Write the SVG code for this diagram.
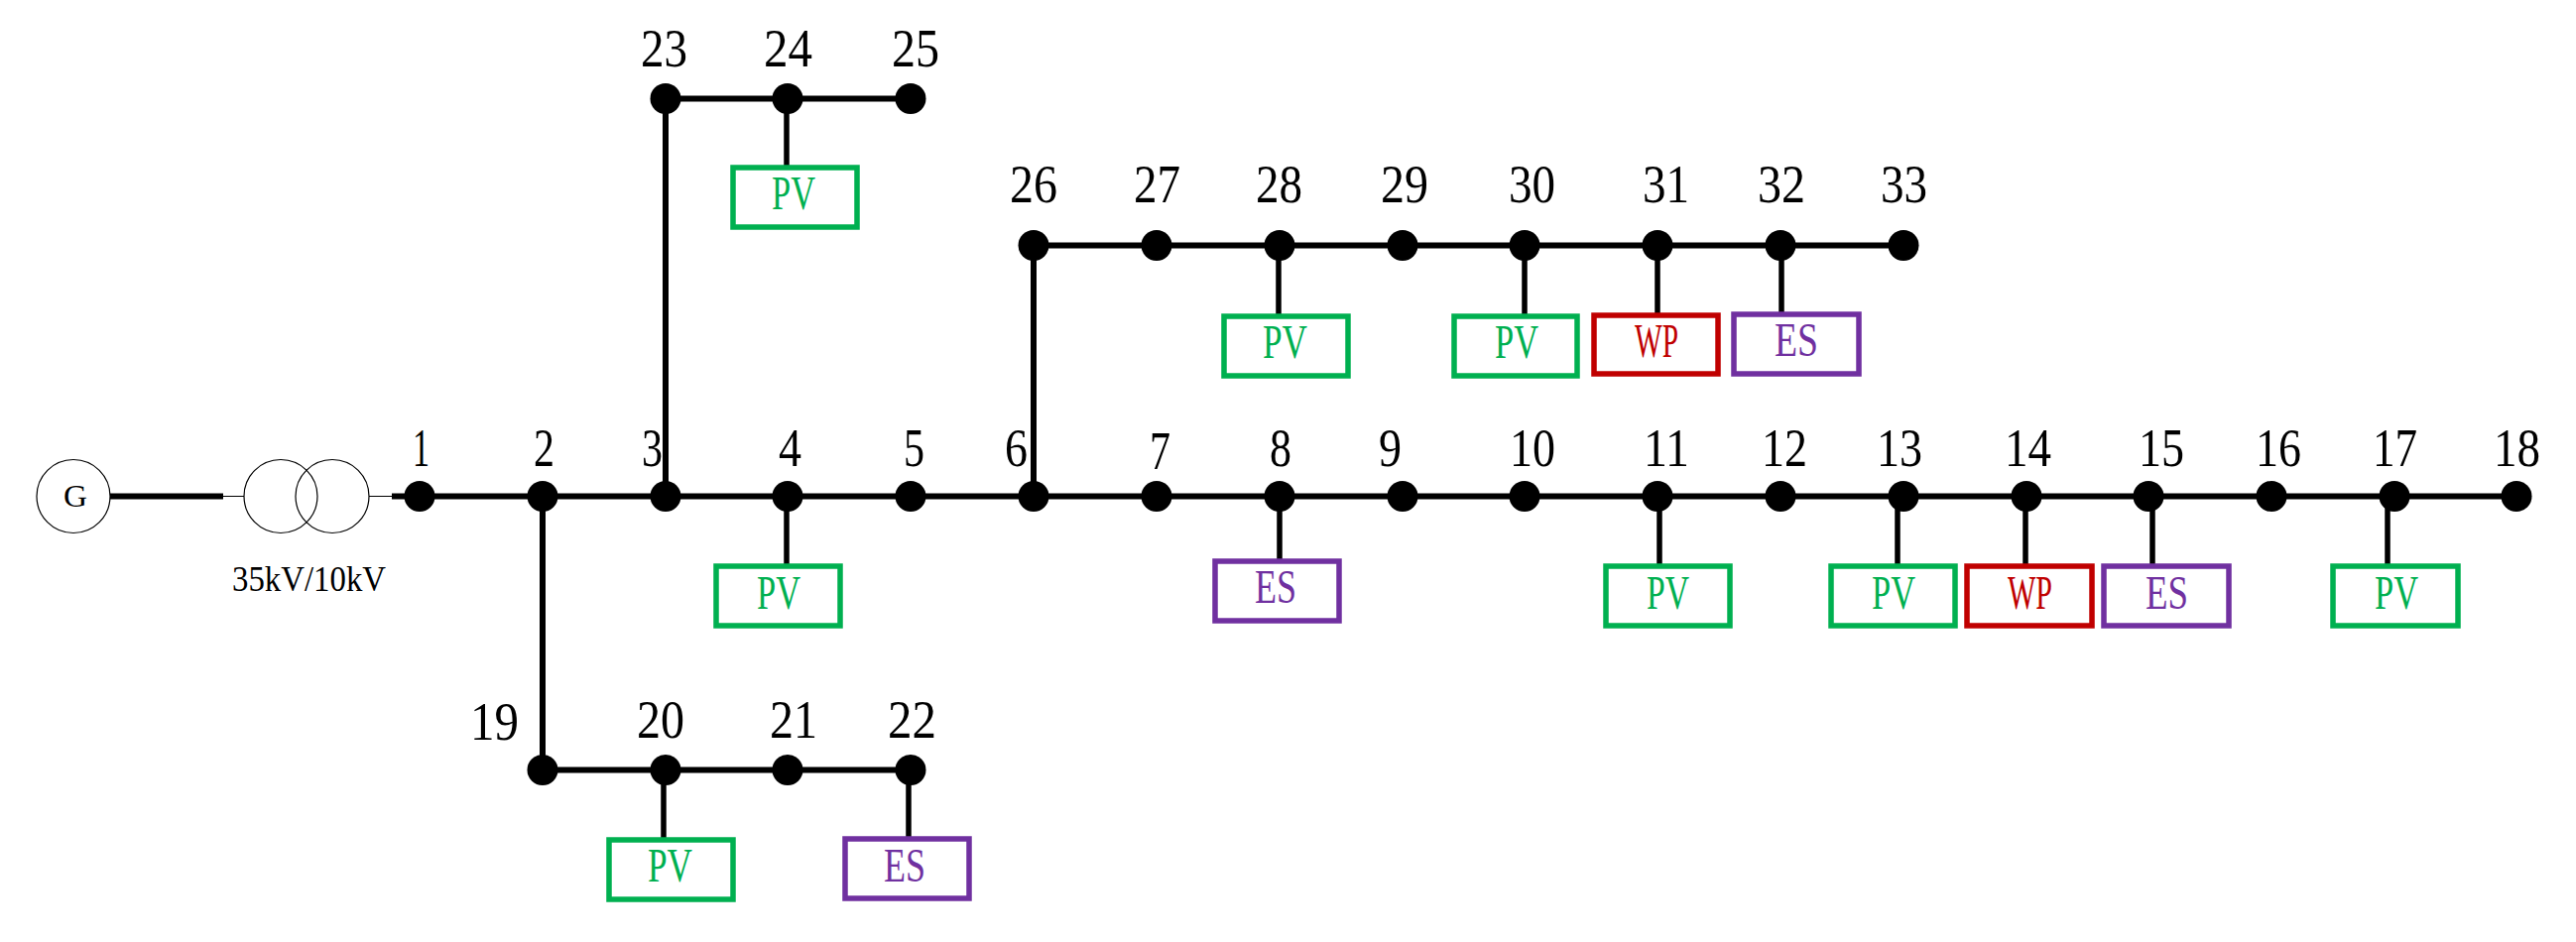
<svg xmlns="http://www.w3.org/2000/svg" width="2597" height="950" viewBox="0 0 2597 950">
<style>
text{font-family:"Liberation Serif","Times New Roman",serif;fill:#000;font-weight:400}
.n{font-size:55px}.u{font-size:48px}
.bus{fill:#000}
.l{stroke:#000;stroke-width:6;fill:none}
.v{stroke:#000;stroke-width:5.5;fill:none}
.t{stroke:#000;stroke-width:1.2;fill:none}
.b{fill:#fff;stroke-width:5.5}
.pv .b{stroke:#00B050}.pv text{fill:#00B050}
.wp .b{stroke:#C00000}.wp text{fill:#C00000}
.es .b{stroke:#7030A0}.es text{fill:#7030A0}
</style>
<rect width="2597" height="950" fill="#fff"/>
<g id="connectors">
<path class="l" d="M111 500.5H225M395 500.5H2537"/>
<path class="t" d="M225 500.5H246M372 500.5H395"/>
<path class="l" d="M547 500V776.5H918M671 500V99.5H918M1042 500V247.5H1919"/>
<path class="v" d="M793 99V170M1289 247V320M1537 247V320M1671 247V319M1796 247V318M793 500V572M1290 500V568M1673 500V572M1913 500V572M2042 500V572M2170 500V572M2407 500V572M669 776V848M916 776V848"/>
</g>
<g id="generator"><circle class="t" cx="74" cy="500.5" r="37"/><text x="76" y="511" text-anchor="middle" font-size="31" textLength="24" lengthAdjust="spacingAndGlyphs">G</text></g>
<g id="transformer"><circle class="t" cx="283" cy="500.5" r="37"/><circle class="t" cx="335" cy="500.5" r="37"/><text x="234" y="596" font-size="35" textLength="155" lengthAdjust="spacingAndGlyphs">35kV/10kV</text></g>
<g id="bus1"><circle class="bus" cx="423" cy="500.5" r="15.5"/><text class="n" x="416" y="470" textLength="17" lengthAdjust="spacingAndGlyphs">1</text></g>
<g id="bus2"><circle class="bus" cx="547" cy="500.5" r="15.5"/><text class="n" x="538" y="470" textLength="21" lengthAdjust="spacingAndGlyphs">2</text></g>
<g id="bus3"><circle class="bus" cx="671" cy="500.5" r="15.5"/><text class="n" x="647" y="470" textLength="21" lengthAdjust="spacingAndGlyphs">3</text></g>
<g id="bus4"><circle class="bus" cx="794" cy="500.5" r="15.5"/><text class="n" x="785" y="470" textLength="23" lengthAdjust="spacingAndGlyphs">4</text></g>
<g id="bus5"><circle class="bus" cx="918" cy="500.5" r="15.5"/><text class="n" x="911" y="470" textLength="21" lengthAdjust="spacingAndGlyphs">5</text></g>
<g id="bus6"><circle class="bus" cx="1042" cy="500.5" r="15.5"/><text class="n" x="1013" y="470" textLength="23" lengthAdjust="spacingAndGlyphs">6</text></g>
<g id="bus7"><circle class="bus" cx="1166" cy="500.5" r="15.5"/><text class="n" x="1159" y="473" textLength="21" lengthAdjust="spacingAndGlyphs">7</text></g>
<g id="bus8"><circle class="bus" cx="1290" cy="500.5" r="15.5"/><text class="n" x="1280" y="470" textLength="22" lengthAdjust="spacingAndGlyphs">8</text></g>
<g id="bus9"><circle class="bus" cx="1414" cy="500.5" r="15.5"/><text class="n" x="1390" y="470" textLength="23" lengthAdjust="spacingAndGlyphs">9</text></g>
<g id="bus10"><circle class="bus" cx="1537" cy="500.5" r="15.5"/><text class="n" x="1522" y="470" textLength="46" lengthAdjust="spacingAndGlyphs">10</text></g>
<g id="bus11"><circle class="bus" cx="1671" cy="500.5" r="15.5"/><text class="n" x="1657" y="470" textLength="46" lengthAdjust="spacingAndGlyphs">11</text></g>
<g id="bus12"><circle class="bus" cx="1795" cy="500.5" r="15.5"/><text class="n" x="1776" y="470" textLength="46" lengthAdjust="spacingAndGlyphs">12</text></g>
<g id="bus13"><circle class="bus" cx="1919" cy="500.5" r="15.5"/><text class="n" x="1892" y="470" textLength="46" lengthAdjust="spacingAndGlyphs">13</text></g>
<g id="bus14"><circle class="bus" cx="2043" cy="500.5" r="15.5"/><text class="n" x="2021" y="470" textLength="47" lengthAdjust="spacingAndGlyphs">14</text></g>
<g id="bus15"><circle class="bus" cx="2166" cy="500.5" r="15.5"/><text class="n" x="2156" y="470" textLength="46" lengthAdjust="spacingAndGlyphs">15</text></g>
<g id="bus16"><circle class="bus" cx="2290" cy="500.5" r="15.5"/><text class="n" x="2274" y="470" textLength="46" lengthAdjust="spacingAndGlyphs">16</text></g>
<g id="bus17"><circle class="bus" cx="2414" cy="500.5" r="15.5"/><text class="n" x="2392" y="470" textLength="45" lengthAdjust="spacingAndGlyphs">17</text></g>
<g id="bus18"><circle class="bus" cx="2537" cy="500.5" r="15.5"/><text class="n" x="2514" y="470" textLength="47" lengthAdjust="spacingAndGlyphs">18</text></g>
<g id="bus19"><circle class="bus" cx="547" cy="776.5" r="15.5"/><text class="n" x="474" y="746" textLength="49" lengthAdjust="spacingAndGlyphs">19</text></g>
<g id="bus20"><circle class="bus" cx="671" cy="776.5" r="15.5"/><text class="n" x="642" y="744" textLength="48" lengthAdjust="spacingAndGlyphs">20</text></g>
<g id="bus21"><circle class="bus" cx="794" cy="776.5" r="15.5"/><text class="n" x="776" y="744" textLength="48" lengthAdjust="spacingAndGlyphs">21</text></g>
<g id="bus22"><circle class="bus" cx="918" cy="776.5" r="15.5"/><text class="n" x="895" y="744" textLength="49" lengthAdjust="spacingAndGlyphs">22</text></g>
<g id="bus23"><circle class="bus" cx="671" cy="99.5" r="15.5"/><text class="n" x="646" y="67" textLength="47" lengthAdjust="spacingAndGlyphs">23</text></g>
<g id="bus24"><circle class="bus" cx="794" cy="99.5" r="15.5"/><text class="n" x="770" y="67" textLength="49" lengthAdjust="spacingAndGlyphs">24</text></g>
<g id="bus25"><circle class="bus" cx="918" cy="99.5" r="15.5"/><text class="n" x="899" y="67" textLength="48" lengthAdjust="spacingAndGlyphs">25</text></g>
<g id="bus26"><circle class="bus" cx="1042" cy="247.5" r="15.5"/><text class="n" x="1018" y="204" textLength="48" lengthAdjust="spacingAndGlyphs">26</text></g>
<g id="bus27"><circle class="bus" cx="1166" cy="247.5" r="15.5"/><text class="n" x="1143" y="204" textLength="47" lengthAdjust="spacingAndGlyphs">27</text></g>
<g id="bus28"><circle class="bus" cx="1290" cy="247.5" r="15.5"/><text class="n" x="1266" y="204" textLength="47" lengthAdjust="spacingAndGlyphs">28</text></g>
<g id="bus29"><circle class="bus" cx="1414" cy="247.5" r="15.5"/><text class="n" x="1392" y="204" textLength="48" lengthAdjust="spacingAndGlyphs">29</text></g>
<g id="bus30"><circle class="bus" cx="1537" cy="247.5" r="15.5"/><text class="n" x="1521" y="204" textLength="47" lengthAdjust="spacingAndGlyphs">30</text></g>
<g id="bus31"><circle class="bus" cx="1671" cy="247.5" r="15.5"/><text class="n" x="1656" y="204" textLength="47" lengthAdjust="spacingAndGlyphs">31</text></g>
<g id="bus32"><circle class="bus" cx="1795" cy="247.5" r="15.5"/><text class="n" x="1772" y="204" textLength="48" lengthAdjust="spacingAndGlyphs">32</text></g>
<g id="bus33"><circle class="bus" cx="1919" cy="247.5" r="15.5"/><text class="n" x="1896" y="204" textLength="47" lengthAdjust="spacingAndGlyphs">33</text></g>
<g id="pv24" class="pv"><rect class="b" x="739" y="169" width="125" height="60"/><text class="u" x="778" y="211" textLength="44" lengthAdjust="spacingAndGlyphs">PV</text></g>
<g id="pv28" class="pv"><rect class="b" x="1234" y="319" width="125" height="60"/><text class="u" x="1273" y="361" textLength="45" lengthAdjust="spacingAndGlyphs">PV</text></g>
<g id="pv30" class="pv"><rect class="b" x="1466" y="319" width="124" height="60"/><text class="u" x="1507" y="361" textLength="44" lengthAdjust="spacingAndGlyphs">PV</text></g>
<g id="wp31" class="wp"><rect class="b" x="1607" y="318" width="125" height="59"/><text class="u" x="1648" y="360" textLength="44" lengthAdjust="spacingAndGlyphs">WP</text></g>
<g id="es32" class="es"><rect class="b" x="1748" y="317" width="126" height="60"/><text class="u" x="1789" y="359" textLength="44" lengthAdjust="spacingAndGlyphs">ES</text></g>
<g id="pv4" class="pv"><rect class="b" x="722" y="571" width="125" height="60"/><text class="u" x="763" y="614" textLength="44" lengthAdjust="spacingAndGlyphs">PV</text></g>
<g id="es8" class="es"><rect class="b" x="1225" y="566" width="125" height="60"/><text class="u" x="1265" y="608" textLength="42" lengthAdjust="spacingAndGlyphs">ES</text></g>
<g id="pv11" class="pv"><rect class="b" x="1619" y="571" width="125" height="60"/><text class="u" x="1660" y="614" textLength="43" lengthAdjust="spacingAndGlyphs">PV</text></g>
<g id="pv13" class="pv"><rect class="b" x="1846" y="571" width="125" height="60"/><text class="u" x="1887" y="614" textLength="44" lengthAdjust="spacingAndGlyphs">PV</text></g>
<g id="wp14" class="wp"><rect class="b" x="1983" y="571" width="126" height="60"/><text class="u" x="2024" y="614" textLength="45" lengthAdjust="spacingAndGlyphs">WP</text></g>
<g id="es15" class="es"><rect class="b" x="2121" y="571" width="126" height="60"/><text class="u" x="2163" y="614" textLength="43" lengthAdjust="spacingAndGlyphs">ES</text></g>
<g id="pv17" class="pv"><rect class="b" x="2352" y="571" width="126" height="60"/><text class="u" x="2394" y="614" textLength="44" lengthAdjust="spacingAndGlyphs">PV</text></g>
<g id="pv20" class="pv"><rect class="b" x="614" y="847" width="125" height="60"/><text class="u" x="653" y="889" textLength="45" lengthAdjust="spacingAndGlyphs">PV</text></g>
<g id="es22" class="es"><rect class="b" x="852" y="846" width="125" height="60"/><text class="u" x="891" y="889" textLength="42" lengthAdjust="spacingAndGlyphs">ES</text></g>
</svg>
